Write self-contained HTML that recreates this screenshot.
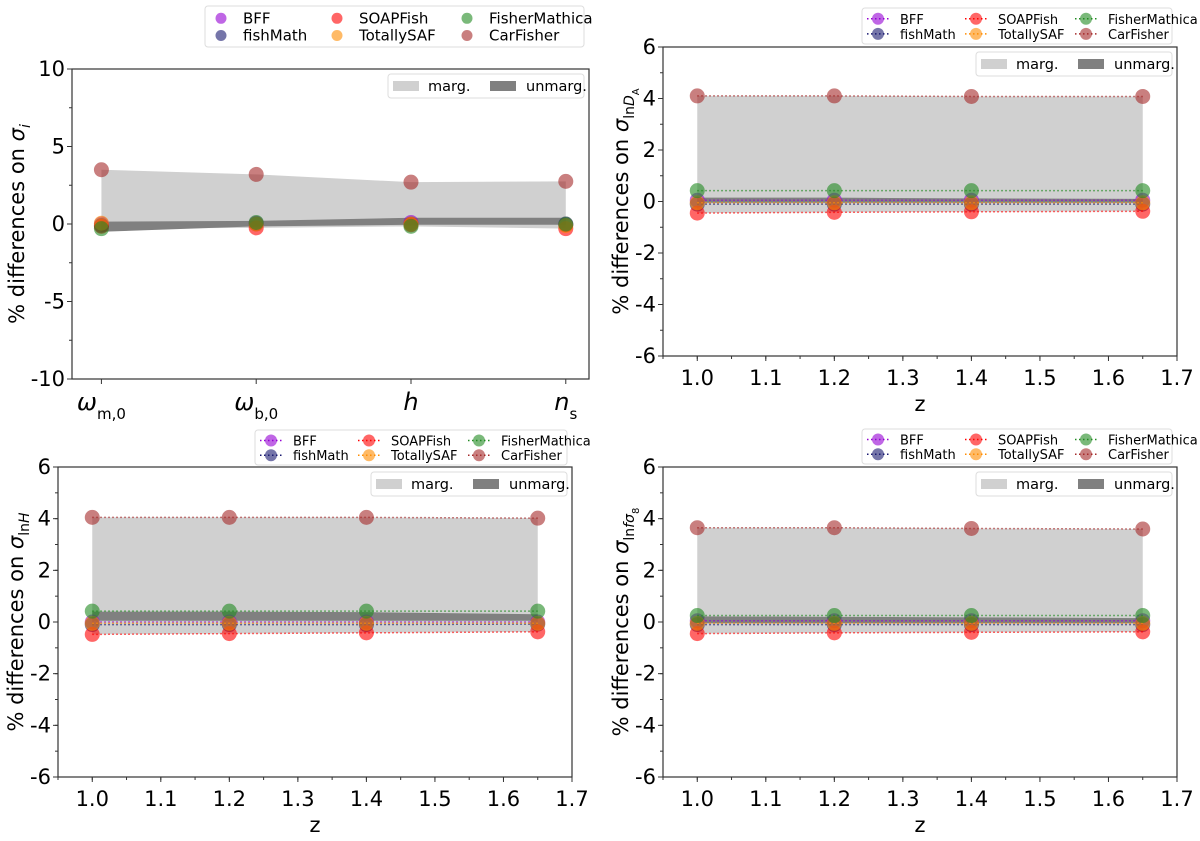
<!DOCTYPE html>
<html><head><meta charset="utf-8"><style>
html,body{margin:0;padding:0;background:#fff;}
svg{display:block;font-family:"DejaVu Sans","Liberation Sans",sans-serif;}
</style></head><body>
<svg id="fig" width="1200" height="841" viewBox="0 0 1200 841" xmlns="http://www.w3.org/2000/svg"></svg>
<script>
// ---- data ----
const seriesNames = ["BFF","fishMath","SOAPFish","TotallySAF","FisherMathica","CarFisher"];
const seriesColors = ["#9400d3","#191970","#ff0000","#ff8c00","#228b22","#a52a2a"];
const paramCats = [0,1,2,3];
const paramLabels = ["ω<tspan baseline-shift='sub' font-size='15' font-style='normal'>m,0</tspan>","ω<tspan baseline-shift='sub' font-size='15' font-style='normal'>b,0</tspan>","h","n<tspan baseline-shift='sub' font-size='15' font-style='normal'>s</tspan>"];
const zVals = [1.0,1.2,1.4,1.65];
const zTicks = [1.0,1.1,1.2,1.3,1.4,1.5,1.6,1.7];
const yTicksTL = [10,5,0,-5,-10];
const yTicksZ = [6,4,2,0,-2,-4,-6];
// panel 1: parameters
const p1BFF = [0.0,0.05,0.1,0.0];
const p1fishMath = [-0.1,0.0,0.0,-0.05];
const p1SOAP = [-0.15,-0.25,-0.05,-0.3];
const p1Totally = [0.05,0.0,0.0,-0.1];
const p1Fisher = [-0.3,0.1,-0.15,0.0];
const p1Car = [3.5,3.2,2.7,2.75];
const p1UnTop = [0.15,0.2,0.4,0.4];
const p1UnBot = [-0.5,-0.15,-0.05,-0.05];
// panel 2: lnDA
const p2BFF = [0.05,0.05,0.05,0.05];
const p2fishMath = [-0.1,-0.1,-0.1,-0.1];
const p2SOAP = [-0.45,-0.42,-0.4,-0.38];
const p2Totally = [-0.05,-0.05,-0.05,-0.05];
const p2Fisher = [0.42,0.42,0.42,0.42];
const p2Car = [4.1,4.1,4.08,4.08];
const p2UnTop = [0.15,0.15,0.12,0.1];
const p2UnBot = [-0.05,-0.05,-0.05,-0.05];
// panel 3: lnH
const p3BFF = [0.0,0.0,0.0,0.0];
const p3fishMath = [-0.1,-0.1,-0.1,-0.08];
const p3SOAP = [-0.48,-0.45,-0.42,-0.38];
const p3Totally = [-0.05,-0.05,-0.05,-0.05];
const p3Fisher = [0.42,0.42,0.42,0.42];
const p3Car = [4.05,4.05,4.05,4.02];
const p3UnTop = [0.4,0.4,0.38,0.3];
const p3UnBot = [0.05,0.05,0.05,0.05];
// panel 4: lnf sigma8
const p4BFF = [0.05,0.05,0.05,0.05];
const p4fishMath = [-0.1,-0.1,-0.1,-0.1];
const p4SOAP = [-0.45,-0.42,-0.4,-0.38];
const p4Totally = [-0.05,-0.05,-0.05,-0.05];
const p4Fisher = [0.25,0.25,0.25,0.25];
const p4Car = [3.65,3.65,3.62,3.6];
const p4UnTop = [0.22,0.2,0.18,0.15];
const p4UnBot = [-0.05,-0.05,-0.05,-0.05];

const NS="http://www.w3.org/2000/svg";
const fig=document.getElementById('fig');
function mk(tag,attrs,parent){const e=document.createElementNS(NS,tag);for(const k in attrs)e.setAttribute(k,attrs[k]);(parent||fig).appendChild(e);return e;}

function panel(cfg){
  const g=mk('g',{});
  
  
  const X=v=>cfg.l+(v-cfg.xmin)/(cfg.xmax-cfg.xmin)*(cfg.r-cfg.l);
  const Y=v=>cfg.b-(v-cfg.ymin)/(cfg.ymax-cfg.ymin)*(cfg.b-cfg.t);
  const xs=cfg.x;
  const series=cfg.series;
  const lo=xs.map((_,i)=>Math.min(...series.map(s=>s[i])));
  const hi=xs.map((_,i)=>Math.max(...series.map(s=>s[i])));
  let d='M'+xs.map((x,i)=>X(x)+','+Y(hi[i])).join(' L')+' L'+xs.map((x,i)=>X(x)+','+Y(lo[i])).reverse().join(' L')+'Z';
  const mb=mk('path',{d:d,fill:'#d0d0d0'},g);
  
  
  d='M'+xs.map((x,i)=>X(x)+','+Y(cfg.unTop[i])).join(' L')+' L'+xs.map((x,i)=>X(x)+','+Y(cfg.unBot[i])).reverse().join(' L')+'Z';
  const ub=mk('path',{d:d,fill:'#808080'},g);
  
  
  series.forEach((s,si)=>{
    const sg=mk('g',{},g);
    
    
    if(cfg.dotted){
      mk('polyline',{points:xs.map((x,i)=>X(x)+','+Y(s[i])).join(' '),fill:'none',stroke:seriesColors[si],'stroke-width':1.5,'stroke-dasharray':'1.5,2.5','stroke-opacity':0.8},sg);
    }
    xs.forEach((x,i)=>{
      const c=mk('circle',{cx:X(x),cy:Y(s[i]),r:7.5,fill:seriesColors[si],'fill-opacity':0.6},sg);
      
      
    });
  });
  const fr=mk('rect',{x:cfg.l,y:cfg.t,width:cfg.r-cfg.l,height:cfg.b-cfg.t,fill:'none',stroke:'#333','stroke-width':1.2},g);
  
  
  cfg.yTicks.forEach(v=>{
    mk('line',{x1:cfg.l-5,x2:cfg.l,y1:Y(v),y2:Y(v),stroke:'#333'},g);
    const t=mk('text',{x:cfg.l-7,y:Y(v)+7,'text-anchor':'end','font-size':21,fill:'#000'},g);
    t.textContent=String(v);
    
    
  });
  for(let v=cfg.ymin;v<=cfg.ymax+1e-9;v+=cfg.yMinor){mk('line',{x1:cfg.l-3,x2:cfg.l,y1:Y(v),y2:Y(v),stroke:'#333'},g);}
  cfg.xTicks.forEach((v,i)=>{
    mk('line',{x1:X(v),x2:X(v),y1:cfg.b,y2:cfg.b+5,stroke:'#333'},g);
    const t=mk('text',{x:X(v),y:cfg.b+(cfg.xTickDy||29),'text-anchor':'middle','font-size':cfg.xTickSize||21,fill:'#000'},g);
    if(cfg.xTickLabels){t.setAttribute('font-style','italic');t.innerHTML=cfg.xTickLabels[i];}else t.textContent=v.toFixed(1);
    
    
  });
  if(cfg.xMinor){for(let v=0.95;v<=1.7+1e-9;v+=0.05){mk('line',{x1:X(v),x2:X(v),y1:cfg.b,y2:cfg.b+3,stroke:'#333'},g);}}
  if(cfg.xTitle){
    const t=mk('text',{x:(cfg.l+cfg.r)/2,y:cfg.b+55,'text-anchor':'middle','font-size':21,fill:'#000'},g);
    t.textContent='z';
    
    
  }
  const yc=(cfg.t+cfg.b)/2;
  const yt=mk('text',{x:cfg.ylx,y:yc,'text-anchor':'middle','font-size':21,fill:'#000',transform:'rotate(-90 '+cfg.ylx+' '+yc+')','dominant-baseline':'middle'},g);
  yt.innerHTML='% differences on <tspan font-style="italic">σ</tspan><tspan baseline-shift="sub" font-size="14">'+cfg.ysub+'</tspan>';
  
  
  const il=mk('g',{},g);
  
  
  const lw=196,lx=cfg.r-5-lw,ly=cfg.t+5;
  mk('rect',{x:lx,y:ly,width:lw,height:24,rx:3,fill:'#fff',stroke:'#ddd'},il);
  mk('rect',{x:lx+5,y:ly+7,width:26,height:10,fill:'#d0d0d0'},il);
  let t=mk('text',{x:lx+40,y:ly+17,'font-size':14.5,fill:'#000'},il);t.textContent='marg.';
  mk('rect',{x:lx+102,y:ly+7,width:26,height:10,fill:'#808080'},il);
  t=mk('text',{x:lx+138,y:ly+17,'font-size':14.5,fill:'#000'},il);t.textContent='unmarg.';
  const ol=mk('g',{},g);
  
  
  const ow=cfg.lgW, ox=cfg.r-5-ow, oy=cfg.lgY, oh=cfg.lgH;
  mk('rect',{x:ox,y:oy,width:ow,height:oh,rx:3,fill:'#fff',stroke:'#ddd'},ol);
  const order=[[0,1],[2,3],[4,5]];
  order.forEach((col,ci)=>col.forEach((si,ri)=>{
    const mx=ox+cfg.lgCols[ci], my=oy+oh*(ri===0?0.3:0.72);
    if(cfg.dotted) mk('line',{x1:mx-11,x2:mx+11,y1:my,y2:my,stroke:seriesColors[si],'stroke-width':1.5,'stroke-dasharray':'1.5,2.5'},ol);
    mk('circle',{cx:mx,cy:my,r:cfg.dotted?6:5.5,fill:seriesColors[si],'fill-opacity':0.6},ol);
    const lt=mk('text',{x:mx+cfg.lgGap,y:my+5,'font-size':cfg.lgFont,fill:'#000'},ol);
    lt.textContent=seriesNames[si];
    
    
  }));
}

panel({name:'panel-parameters',l:72,r:589,t:69,b:379,xmin:-0.19,xmax:3.15,ymin:-10,ymax:10,yMinor:2.5,
  x:paramCats,xTicks:paramCats,xTickLabels:paramLabels,xTickSize:24,xTickDy:31,yTicks:yTicksTL,ysub:'<tspan font-style="italic">i</tspan>',ylx:18,
  series:[p1BFF,p1fishMath,p1SOAP,p1Totally,p1Fisher,p1Car],unTop:p1UnTop,unBot:p1UnBot,dotted:false,
  lgW:379,lgY:6,lgH:41,lgCols:[16,132,262],lgGap:22,lgFont:15});
panel({name:'panel-lnDA',l:663,r:1177,t:47,b:356,xmin:0.95,xmax:1.7,ymin:-6,ymax:6,yMinor:1,
  x:zVals,xTicks:zTicks,xMinor:true,xTitle:true,yTicks:yTicksZ,ysub:'ln<tspan font-style="italic">D</tspan><tspan font-size="10" baseline-shift="sub">A</tspan>',ylx:622,
  series:[p2BFF,p2fishMath,p2SOAP,p2Totally,p2Fisher,p2Car],unTop:p2UnTop,unBot:p2UnBot,dotted:true,
  lgW:310,lgY:8,lgH:36,lgCols:[16,114,224],lgGap:22,lgFont:13});
panel({name:'panel-lnH',l:58,r:572,t:467,b:777,xmin:0.95,xmax:1.7,ymin:-6,ymax:6,yMinor:1,
  x:zVals,xTicks:zTicks,xMinor:true,xTitle:true,yTicks:yTicksZ,ysub:'ln<tspan font-style="italic">H</tspan>',ylx:17,
  series:[p3BFF,p3fishMath,p3SOAP,p3Totally,p3Fisher,p3Car],unTop:p3UnTop,unBot:p3UnBot,dotted:true,
  lgW:312,lgY:430,lgH:35,lgCols:[16,114,224],lgGap:22,lgFont:13});
panel({name:'panel-lnfsigma8',l:663,r:1177,t:467,b:777,xmin:0.95,xmax:1.7,ymin:-6,ymax:6,yMinor:1,
  x:zVals,xTicks:zTicks,xMinor:true,xTitle:true,yTicks:yTicksZ,ysub:'ln<tspan font-style="italic">fσ</tspan><tspan font-size="10" baseline-shift="sub">8</tspan>',ylx:622,
  series:[p4BFF,p4fishMath,p4SOAP,p4Totally,p4Fisher,p4Car],unTop:p4UnTop,unBot:p4UnBot,dotted:true,
  lgW:310,lgY:429,lgH:35,lgCols:[16,114,224],lgGap:22,lgFont:13});
</script>
</body></html>
